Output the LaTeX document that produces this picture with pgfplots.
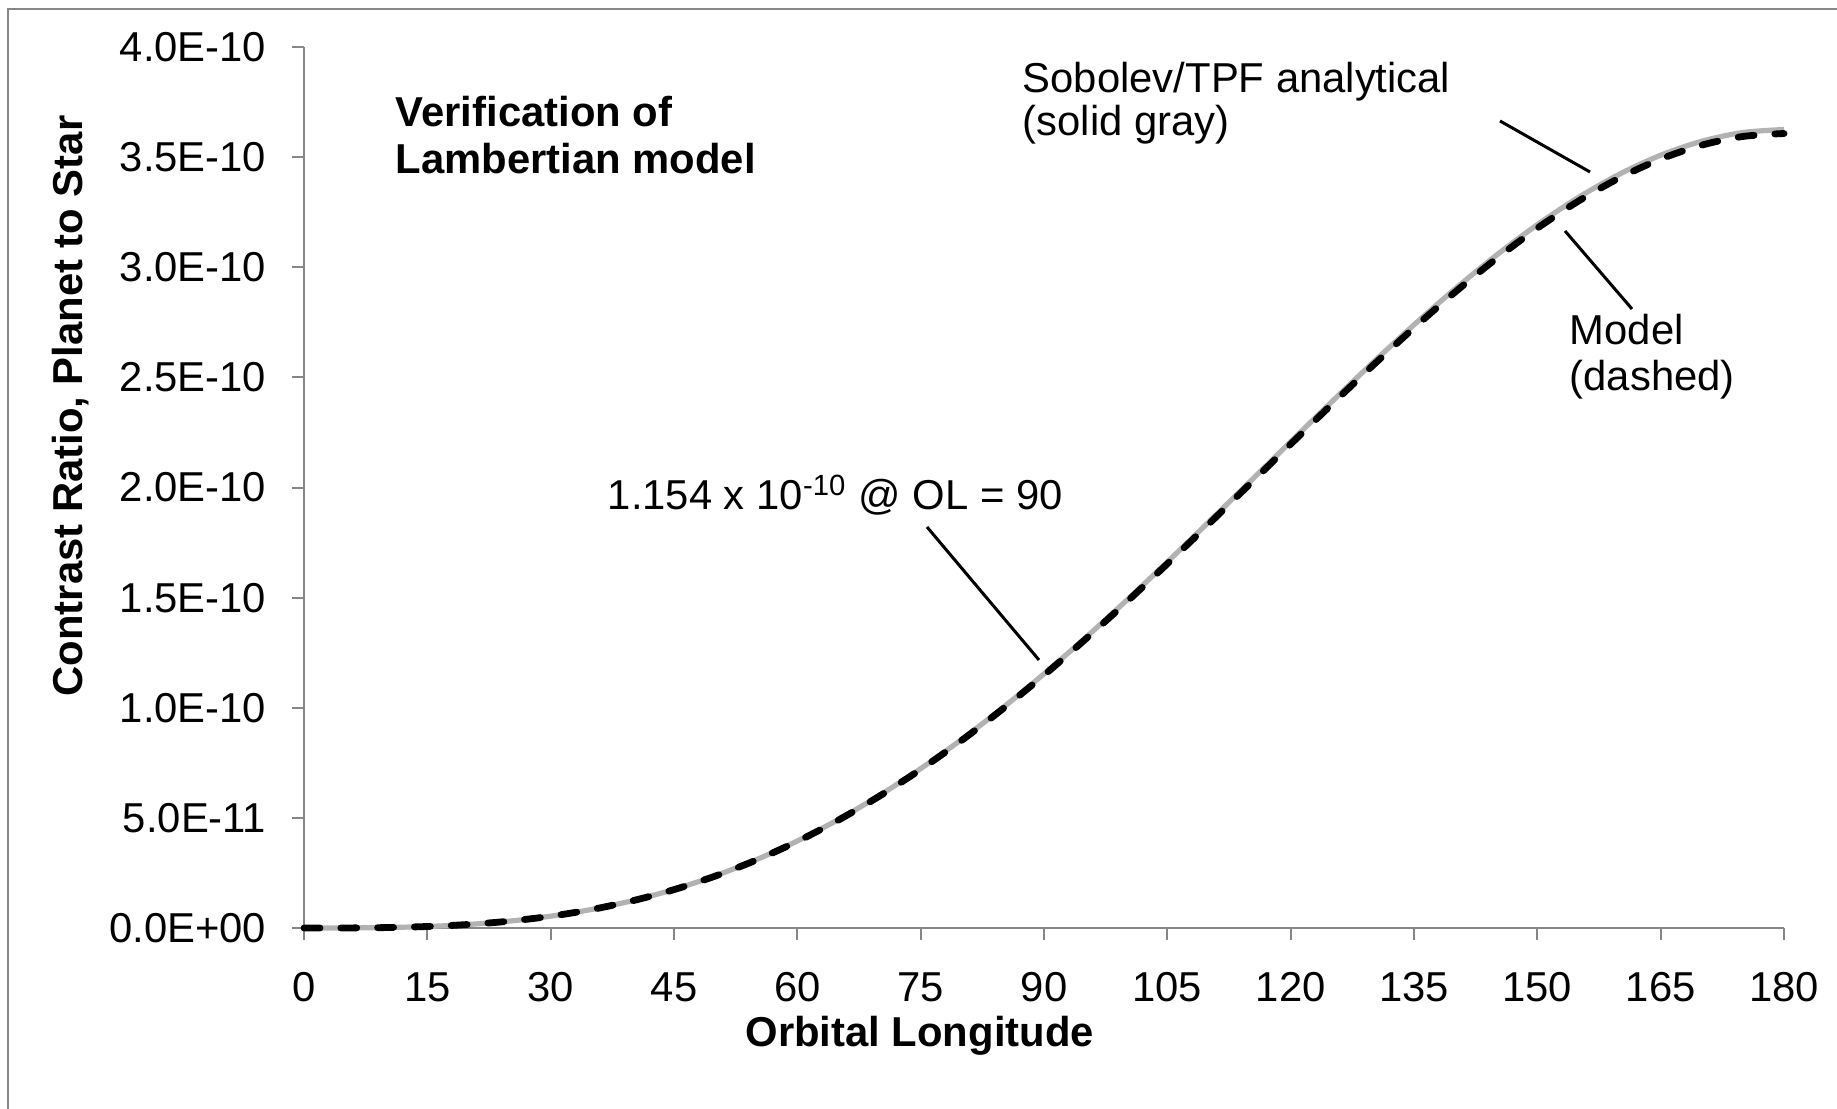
\documentclass[border=0pt]{standalone}
\usepackage{pgfplots}
\pgfplotsset{compat=1.18}
\usepackage{pgfplotstable}
\usepackage{fontspec}
\setmainfont{Liberation Sans}
\definecolor{axgray}{RGB}{134,134,134}
\definecolor{curvegray}{RGB}{178,178,178}

% Orbital longitude (deg) vs contrast ratio (units of 1E-10)
\pgfplotstableread{
ol   cr
0    0
5    0.000256
10   0.002039
15   0.006855
20   0.016162
25   0.031351
30   0.053719
35   0.084455
40   0.124618
45   0.175116
50   0.236692
55   0.309917
60   0.395160
65   0.492600
70   0.602200
75   0.723712
80   0.856672
85   1.000399
90   1.154000
95   1.316375
100  1.486215
105  1.662033
110  1.842158
115  2.024758
120  2.207859
125  2.389358
130  2.567055
135  2.738659
140  2.901832
145  3.054172
150  3.193405
155  3.317070
160  3.422922
165  3.508720
170  3.572359
175  3.611860
180  3.625398
}\analytical

\pgfplotstableread{
ol   cr
0    0
5    0.000255
10   0.002029
15   0.006821
20   0.016081
25   0.031194
30   0.053450
35   0.084033
40   0.123995
45   0.174240
50   0.235509
55   0.308367
60   0.393184
65   0.490137
70   0.599189
75   0.720093
80   0.852389
85   0.995397
90   1.148230
95   1.309793
100  1.478784
105  1.653723
110  1.832947
115  2.014634
120  2.196820
125  2.377411
130  2.554220
135  2.724966
140  2.887323
145  3.038901
150  3.177438
155  3.300485
160  3.405807
165  3.491176
170  3.554497
175  3.593801
180  3.607271
}\model

\begin{document}
\begin{tikzpicture}[font=\fontsize{10.45pt}{12pt}\selectfont]
\begin{scope}[x=0.25pt,y=-0.25pt]
\useasboundingbox (0,0) rectangle (1837,1109);
\draw[axgray, line width=0.5pt] (1840,9) -- (8,9) -- (8,1112);
\end{scope}
\begin{axis}[
  at={(76pt,-232pt)}, anchor=south west,
  scale only axis, width=370pt, height=220.25pt,
  xmin=0, xmax=180, ymin=0, ymax=4,
  axis lines=left,
  axis line style={-, draw=axgray, line width=0.5pt},
  xtick={0,15,30,45,60,75,90,105,120,135,150,165,180},
  xticklabels={0,15,30,45,60,75,90,105,120,135,150,165,180},
  ytick={0,0.5,1,1.5,2,2.5,3,3.5,4},
  yticklabels={0.0E+00,5.0E-11,1.0E-10,1.5E-10,2.0E-10,2.5E-10,3.0E-10,3.5E-10,4.0E-10},
  tick align=outside,
  major tick length=3pt,
  tick style={axgray, line width=0.5pt},
  /pgf/number format/assume math mode=true,
  yticklabel style={anchor=east, inner sep=0pt, xshift=-6.25pt},
  xticklabel style={anchor=north, inner sep=0pt, yshift=-8pt},
  xlabel={\bfseries Orbital Longitude},
  xlabel style={at={(axis description cs:0.416,-0.135)}, anchor=base, inner sep=0pt},
  ylabel={\bfseries Contrast Ratio, Planet to Star},
  ylabel style={at={(axis description cs:-0.150,0.5925)}, anchor=base, inner sep=0pt},
  clip=false,
]
\addplot[curvegray, line width=1.3pt, smooth] table[x=ol, y=cr] {\analytical};
\addplot[black, line width=1.7pt, dash pattern=on 4pt off 5.2pt, line cap=round, smooth] table[x=ol, y=cr] {\model};
\end{axis}
\begin{scope}[x=0.25pt,y=-0.25pt]
\node[anchor=base west, inner sep=0pt] at (395,127) {\bfseries Verification of};
\node[anchor=base west, inner sep=0pt] at (395,174) {\bfseries Lambertian model};
\node[anchor=base west, inner sep=0pt] at (1022,93) {Sobolev/TPF analytical};
\node[anchor=base west, inner sep=0pt] at (1022,136) {(solid gray)};
\draw[black, line width=0.75pt] (1500,121) -- (1590,172);
\node[anchor=base west, inner sep=0pt] at (1569,345) {Model};
\node[anchor=base west, inner sep=0pt] at (1569,391) {(dashed)};
\draw[black, line width=0.75pt] (1565,231) -- (1632,309);
\node[anchor=base west, inner sep=0pt] at (607,510) {1.154 x 10\textsuperscript{-10} @ OL = 90};
\draw[black, line width=0.75pt] (927,527) -- (1039,660);
\end{scope}
\end{tikzpicture}
\end{document}
